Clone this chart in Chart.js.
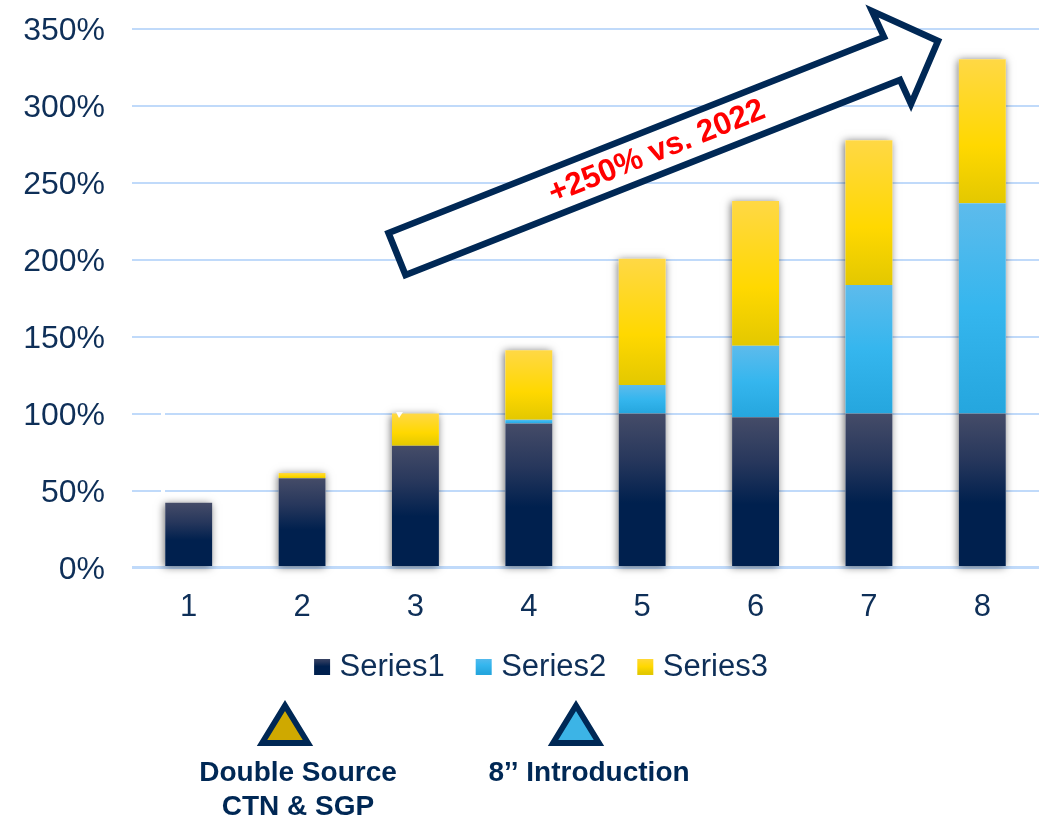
<!DOCTYPE html>
<html>
<head>
<meta charset="utf-8">
<title>Volume growth</title>
<script src="https://cdn.jsdelivr.net/npm/chart.js@4"></script>
<style>
  html, body { margin: 0; padding: 0; background: #fff; }
  canvas { display: block; }
</style>
</head>
<body>
<canvas id="growth-chart" width="1051" height="818"></canvas>
<script>
// DATA

const categories = ['1', '2', '3', '4', '5', '6', '7', '8'];
const series1 = [42, 58, 79, 93.5, 100, 97.5, 100, 100];
const series2 = [0, 0, 0, 2.5, 18.5, 46.5, 83.5, 136.5];
const series3 = [0, 3.4, 21, 45, 82, 94, 94, 93.5];
const seriesNames = ['Series1', 'Series2', 'Series3'];


// COLORS

const NAVY = '#002855';
const TEXT = '#0e2f58';
const GRID = '#c0dafa';

const stops = {
    navy: [[0, '#454c68'], [0.3, '#27375c'], [0.58, '#00204e'], [1, '#00204e']],
    blue: [[0, '#5dbbec'], [0.5, '#35b6ee'], [1, '#25a6de']],
    gold: [[0, '#ffd845'], [0.6, '#ffd800'], [1, '#e3c800']]
};

const makeGradient = (ctx, y0, y1, colorStops) => {
    const g = ctx.createLinearGradient(0, y0, 0, y1);
    colorStops.forEach(([at, color]) => g.addColorStop(at, color));
    return g;
};

// each segment gets its own gradient, top to bottom of that segment
const segmentFill = (colorStops, below) => (c) => {
    if (c.type !== 'data') return colorStops[1][1];
    const y = c.chart.scales.y;
    const base = below.reduce((sum, s) => sum + s[c.dataIndex], 0);
    const value = c.dataset.data[c.dataIndex];
    return makeGradient(c.chart.ctx, y.getPixelForValue(base + value), y.getPixelForValue(base), colorStops);
};


// PLUGINS

// legend sits off-centre and tucks up under the axis labels
const legendOffset = {
    id: 'legendOffset',
    afterLayout(chart) {
        chart.legend.left = 49;
        chart.legend.top -= 8;
    }
};

// soft shadow behind each whole stack
const stackShadow = {
    id: 'stackShadow',
    beforeDatasetsDraw(chart) {
        const { ctx } = chart;
        categories.forEach((_, i) => {
            const bars = chart.data.datasets.map((d, k) => chart.getDatasetMeta(k).data[i]);
            const top = Math.min(...bars.map(b => b.y));
            const { x, width, base } = bars[0];
            ctx.save();
            ctx.shadowColor = 'rgba(0, 0, 0, 0.55)';
            ctx.shadowBlur = 8;
            ctx.shadowOffsetX = -1;
            ctx.shadowOffsetY = 1;
            ctx.fillStyle = '#fff';
            ctx.fillRect(x - width / 2, top, width, base - top);
            ctx.restore();
        });
    }
};

const drawPath = (ctx, points) => {
    ctx.beginPath();
    points.forEach(([x, y], i) => i ? ctx.lineTo(x, y) : ctx.moveTo(x, y));
    ctx.closePath();
};

const drawMarker = (ctx, points, fill) => {
    drawPath(ctx, points);
    ctx.fillStyle = fill;
    ctx.fill();
    ctx.lineWidth = 5.8;
    ctx.lineJoin = 'miter';
    ctx.strokeStyle = NAVY;
    ctx.stroke();
};

// growth arrow and the two markers under the legend
const overlays = {
    id: 'overlays',
    afterDraw(chart) {
        const { ctx } = chart;
        ctx.save();

        // small white nicks left in the grid and on the third stack
        ctx.fillStyle = '#fff';
        ctx.fillRect(161, 411, 4, 5);
        ctx.fillRect(161, 488, 4, 5);
        drawPath(ctx, [[396, 412], [403, 412], [399, 418]]);
        ctx.fill();

        drawPath(ctx, [[388.5, 233], [884, 37], [872, 11], [938, 41], [911, 104], [900, 80], [405.5, 275]]);
        ctx.fillStyle = '#fff';
        ctx.fill();
        ctx.lineWidth = 6.5;
        ctx.lineJoin = 'miter';
        ctx.miterLimit = 10;
        ctx.strokeStyle = NAVY;
        ctx.stroke();

        ctx.save();
        ctx.translate(657, 152);
        ctx.rotate(-22 * Math.PI / 180);
        ctx.font = 'bold 31.5px "Liberation Sans"';
        ctx.fillStyle = '#ff0000';
        ctx.textAlign = 'center';
        ctx.textBaseline = 'middle';
        ctx.fillText('+250% vs. 2022', 0, 0);
        ctx.restore();

        drawMarker(ctx, [[285, 705.5], [262, 743], [308, 743]], '#cfa900');
        drawMarker(ctx, [[576, 705.5], [553, 743], [599, 743]], '#3cb4e6');

        ctx.font = 'bold 28px "Liberation Sans"';
        ctx.fillStyle = NAVY;
        ctx.textAlign = 'center';
        ctx.textBaseline = 'middle';
        ctx.fillText('Double Source', 298, 773);
        ctx.fillText('CTN & SGP', 298, 807);
        ctx.fillText('8’’ Introduction', 589, 773);
        ctx.restore();
    }
};


// CHART

const legendStops = [stops.navy, stops.blue, stops.gold];

const chart = new Chart(document.getElementById('growth-chart'), {
    type: 'bar',
    data: {
        labels: categories,
        datasets: [
            { label: seriesNames[0], data: series1, backgroundColor: segmentFill(stops.navy, []) },
            { label: seriesNames[1], data: series2, backgroundColor: segmentFill(stops.blue, [series1]) },
            { label: seriesNames[2], data: series3, backgroundColor: segmentFill(stops.gold, [series1, series2]) }
        ]
    },
    options: {
        responsive: false,
        animation: false,
        devicePixelRatio: 1,
        barPercentage: 0.414,
        categoryPercentage: 1,
        layout: { padding: { left: 0, right: 12, top: 28.5, bottom: 117.5 } },
        plugins: {
            tooltip: { enabled: false },
            legend: {
                position: 'bottom',
                labels: {
                    color: TEXT,
                    font: { family: '"Liberation Sans"', size: 31 },
                    boxWidth: 4,
                    boxHeight: 4,
                    padding: 37,
                    // thick stroke on a thin box keeps the swatch close to its text
                    generateLabels: (c) => seriesNames.map((text, i) => {
                        const g = makeGradient(c.ctx, 657, 673, legendStops[i]);
                        return { text, fillStyle: g, strokeStyle: g, lineWidth: 12, fontColor: TEXT, datasetIndex: i };
                    })
                }
            }
        },
        scales: {
            x: {
                stacked: true,
                grid: { display: false },
                border: { display: false },
                afterFit: (s) => { s.height = 55; },
                ticks: { color: TEXT, padding: 13, font: { family: '"Liberation Sans"', size: 31 } }
            },
            y: {
                stacked: true,
                min: 0,
                max: 350,
                afterFit: (s) => {
                    s.width = 132;
                    s.paddingTop = 0;
                    s.paddingBottom = 0;
                },
                border: { display: false },
                grid: {
                    drawTicks: false,
                    color: GRID,
                    lineWidth: (c) => c.tick.value === 0 ? 3 : 2
                },
                ticks: {
                    stepSize: 50,
                    padding: 27,
                    labelOffset: 3,
                    color: TEXT,
                    font: { family: '"Liberation Sans"', size: 32 },
                    callback: (v) => `${v}%`
                }
            }
        }
    },
    plugins: [legendOffset, stackShadow, overlays]
});
</script>
</body>
</html>
